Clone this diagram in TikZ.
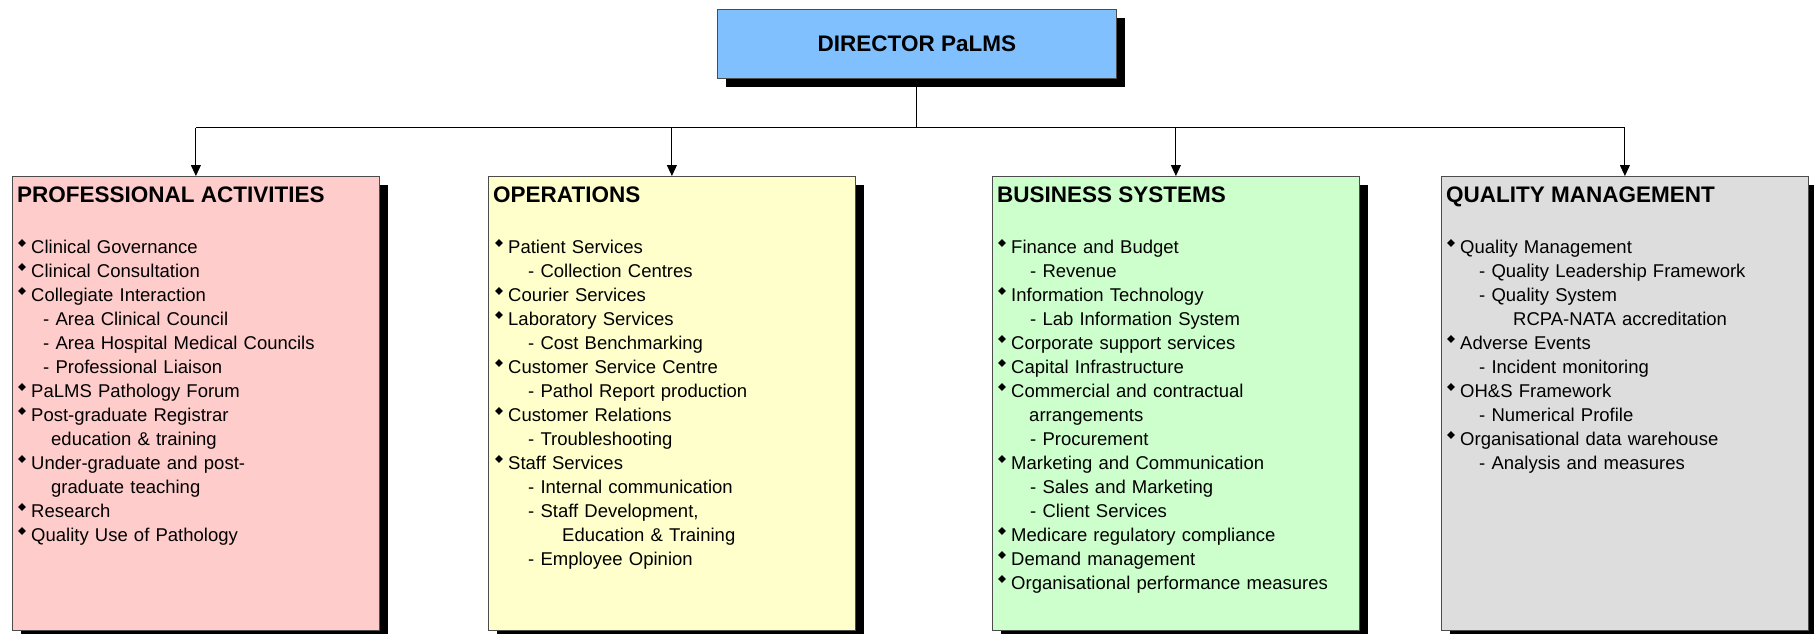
\documentclass[tikz,border=0pt]{standalone}
\usepackage{fontspec}
\setmainfont{Liberation Sans}
\usetikzlibrary{arrows.meta,shadows}

\definecolor{dirblue}{HTML}{80C0FF}
\definecolor{profpink}{HTML}{FFCCCC}
\definecolor{opsyellow}{HTML}{FFFFCC}
\definecolor{busgreen}{HTML}{CCFFCC}
\definecolor{qualgrey}{HTML}{DDDDDD}

% bullet and indents for the lists
\newcommand\bul{\makebox[13pt][l]{\raisebox{6.2pt}{\rotatebox{45}{\rule{5.4pt}{5.4pt}}}}}
\newcommand\ind[1][25pt]{\hspace*{#1}}

\begin{document}
\begin{tikzpicture}[x=1pt,y=-1pt,
    unit box/.style={rectangle,draw=black!70,line width=0.8pt,anchor=north west,inner sep=0pt,
      minimum width=367pt,minimum height=454pt,
      drop shadow={shadow xshift=9pt,shadow yshift=-9pt,fill=black,opacity=1}},
    box title/.style={anchor=base west,inner sep=0pt,font=\bfseries\fontsize{22.5}{27}\selectfont},
    box list/.style={anchor=base west,inner sep=0pt,text width=360pt,align=left,
      font=\fontsize{18.5}{24}\selectfont},
    link/.style={line width=1pt},
    arrowlink/.style={link,-{Triangle[width=10pt,length=11pt]}}]

  \useasboundingbox (0,0) rectangle (1814,634);

  \node[unit box,fill=dirblue,minimum width=399pt,minimum height=69pt,
    font=\bfseries\fontsize{22.5}{27}\selectfont] (dir) at (717,9) {DIRECTOR PaLMS};

  \node[unit box,fill=profpink] (pa) at (12,176) {};
  \node[unit box,fill=opsyellow] (ops) at (488,176) {};
  \node[unit box,fill=busgreen] (bs) at (992,176) {};
  \node[unit box,fill=qualgrey] (qm) at (1441,176) {};

  % titles
  \node[box title] (pa title) at ([xshift=5pt,yshift=-26pt]pa.north west) {PROFESSIONAL ACTIVITIES};
  \node[box title] (ops title) at ([xshift=5pt,yshift=-26pt]ops.north west) {OPERATIONS};
  \node[box title] (bs title) at ([xshift=5pt,yshift=-26pt]bs.north west) {BUSINESS SYSTEMS};
  \node[box title] (qm title) at ([xshift=5pt,yshift=-26pt]qm.north west) {QUALITY MANAGEMENT};

  % lists
  \node[box list] (pa list) at ([xshift=6pt,yshift=-77pt]pa.north west) {%
    \bul Clinical Governance\\
    \bul Clinical Consultation\\
    \bul Collegiate Interaction\\
    \ind- Area Clinical Council\\
    \ind- Area Hospital Medical Councils\\
    \ind- Professional Liaison\\
    \bul PaLMS Pathology Forum\\
    \bul Post-graduate Registrar\\
    \ind[33pt]education \& training\\
    \bul Under-graduate and post-\\
    \ind[33pt]graduate teaching\\
    \bul Research\\
    \bul Quality Use of Pathology};

  \node[box list] (ops list) at ([xshift=7pt,yshift=-77pt]ops.north west) {%
    \bul Patient Services\\
    \ind[33pt]- Collection Centres\\
    \bul Courier Services\\
    \bul Laboratory Services\\
    \ind[33pt]- Cost Benchmarking\\
    \bul Customer Service Centre\\
    \ind[33pt]- Pathol Report production\\
    \bul Customer Relations\\
    \ind[33pt]- Troubleshooting\\
    \bul Staff Services\\
    \ind[33pt]- Internal communication\\
    \ind[33pt]- Staff Development,\\
    \ind[67pt]Education \& Training\\
    \ind[33pt]- Employee Opinion};

  \node[box list] (bs list) at ([xshift=6pt,yshift=-77pt]bs.north west) {%
    \bul Finance and Budget\\
    \ind[32pt]- Revenue\\
    \bul Information Technology\\
    \ind[32pt]- Lab Information System\\
    \bul Corporate support services\\
    \bul Capital Infrastructure\\
    \bul Commercial and contractual\\
    \ind[31pt]arrangements\\
    \ind[32pt]- Procurement\\
    \bul Marketing and Communication\\
    \ind[32pt]- Sales and Marketing\\
    \ind[32pt]- Client Services\\
    \bul Medicare regulatory compliance\\
    \bul Demand management\\
    \bul Organisational performance measures};

  \node[box list] (qm list) at ([xshift=6pt,yshift=-77pt]qm.north west) {%
    \bul Quality Management\\
    \ind[32pt]- Quality Leadership Framework\\
    \ind[32pt]- Quality System\\
    \ind[66pt]RCPA-NATA accreditation\\
    \bul Adverse Events\\
    \ind[32pt]- Incident monitoring\\
    \bul OH\&S Framework\\
    \ind[32pt]- Numerical Profile\\
    \bul Organisational data warehouse\\
    \ind[32pt]- Analysis and measures};

  % connectors
  \coordinate (bus) at ([yshift=-49pt]dir.south);
  \draw[link] (dir.south) -- (bus);
  \draw[link] (pa.north |- bus) -- (qm.north |- bus);
  \foreach \b in {pa,ops,bs,qm}
    \draw[arrowlink] (\b.north |- bus) -- (\b.north);

\end{tikzpicture}
\end{document}
